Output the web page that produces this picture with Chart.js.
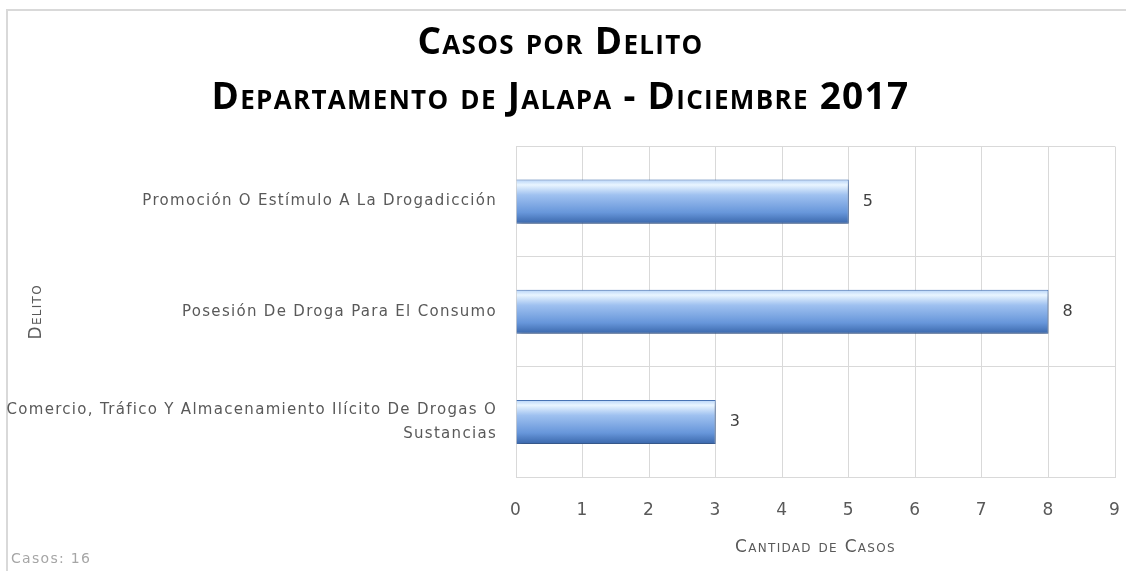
<!DOCTYPE html>
<html>
<head>
<meta charset="utf-8">
<script src="https://cdn.jsdelivr.net/npm/chart.js@4.4.1/dist/chart.umd.min.js"></script>
<style>
  html, body { margin: 0; padding: 0; background: #fff; }
</style>
</head>
<body>
<canvas id="delitos" width="1126" height="571"></canvas>
<script>
const delitos = [
    'Promoción O Estímulo A La Drogadicción',
    'Posesión De Droga Para El Consumo',
    ['Comercio, Tráfico Y Almacenamiento Ilícito De Drogas O', 'Sustancias']
];
const casos = [5, 8, 3];
const titulo = ['Casos por Delito', 'Departamento de Jalapa - Diciembre 2017'];

const gris = '#d9d9d9';
const texto = '#595959';

// barra con degradado vertical, como el estilo de Excel
function degradado(c) {
    const chart = c.chart;
    const y = chart.scales.y;
    if (!chart.chartArea || !y) return '#6f9ee0';
    const yc = y.getPixelForValue(c.dataIndex);
    const g = chart.ctx.createLinearGradient(0, yc - 22, 0, yc + 22);
    g.addColorStop(0, '#b5d3f8');
    g.addColorStop(0.12, '#e9f5ff');
    g.addColorStop(0.35, '#9fc1f0');
    g.addColorStop(0.75, '#6796da');
    g.addColorStop(1, '#3a67ab');
    return g;
}

const extras = {
    id: 'extras',
    beforeDraw(chart) {
        const ctx = chart.ctx;
        ctx.save();
        ctx.strokeStyle = gris;
        ctx.lineWidth = 2;
        ctx.beginPath();
        ctx.moveTo(1126, 10);
        ctx.lineTo(7, 10);
        ctx.lineTo(7, 571);
        ctx.stroke();
        ctx.restore();
        ctx.letterSpacing = '1.3px';
    },
    beforeDatasetsDraw(chart) {
        const ctx = chart.ctx;
        ctx.save();
        ctx.shadowColor = 'rgba(0,0,0,0.35)';
        ctx.shadowBlur = 6;
        ctx.shadowOffsetY = 3;
        ctx.shadowOffsetX = 1;
    },
    afterDatasetsDraw(chart) {
        const ctx = chart.ctx;
        ctx.restore();
        ctx.save();
        ctx.font = '16px "DejaVu Sans"';
        ctx.fillStyle = '#404040';
        ctx.textBaseline = 'middle';
        chart.getDatasetMeta(0).data.forEach((bar, i) => {
            ctx.fillText(casos[i], bar.x + 14, bar.y);
        });
        ctx.font = '14px "DejaVu Sans"';
        ctx.fillStyle = '#a6a6a6';
        ctx.textBaseline = 'alphabetic';
        ctx.fillText('Casos: ' + casos.reduce((a, b) => a + b, 0), 11, 563);
        ctx.restore();
    },
    afterDraw(chart) {
        chart.ctx.letterSpacing = '0px';
    }
};

new Chart(document.getElementById('delitos'), {
    type: 'bar',
    data: {
        labels: delitos,
        datasets: [{
            data: casos,
            backgroundColor: degradado,
            borderColor: '#4a78bd',
            borderWidth: 1,
            categoryPercentage: 1,
            barPercentage: 0.4
        }]
    },
    options: {
        indexAxis: 'y',
        responsive: false,
        animation: false,
        layout: {
            padding: { top: 0, left: 6, right: 11, bottom: 0 }
        },
        plugins: {
            legend: { display: false },
            tooltip: { enabled: false },
            title: {
                display: true,
                text: titulo,
                color: '#000',
                font: { family: '"Open Sans"', size: 37, weight: 'small-caps bold', lineHeight: 1.48 },
                padding: { top: 16, bottom: 21 }
            }
        },
        scales: {
            x: {
                min: 0,
                max: 9,
                ticks: {
                    stepSize: 1,
                    color: texto,
                    padding: 23,
                    font: { family: '"DejaVu Sans"', size: 17 }
                },
                grid: { color: gris, drawTicks: false },
                border: { color: gris },
                title: {
                    display: true,
                    text: 'Cantidad de Casos',
                    color: texto,
                    font: { family: '"DejaVu Sans"', size: 17, weight: 'small-caps normal' },
                    padding: { top: 0, bottom: 13 }
                },
                afterFit(s) {
                    s.height = 94;
                    s.paddingRight = 0;
                }
            },
            y: {
                ticks: {
                    color: texto,
                    padding: 19,
                    font: { family: '"DejaVu Sans"', size: 15, lineHeight: 1.6 }
                },
                grid: { color: gris, drawTicks: false },
                border: { color: gris },
                title: {
                    display: true,
                    text: 'Delito',
                    color: texto,
                    font: { family: '"DejaVu Sans"', size: 17, weight: 'small-caps normal' },
                    padding: { top: 20, bottom: 0 }
                },
                afterFit(s) { s.width = 510; }
            }
        }
    },
    plugins: [extras]
});
</script>
</body>
</html>
